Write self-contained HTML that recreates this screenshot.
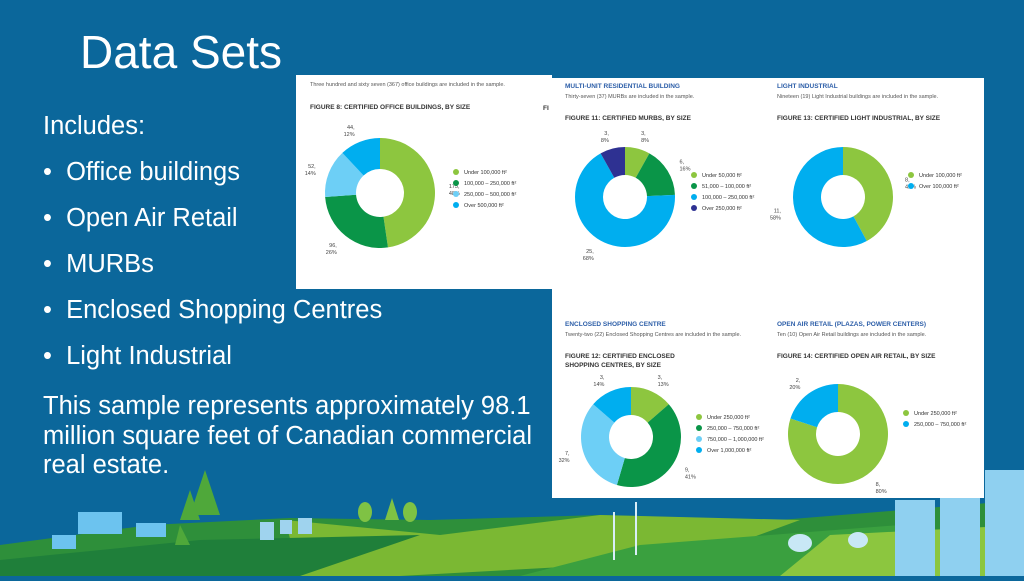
<!DOCTYPE html>
<html><head><meta charset="utf-8">
<style>
body{margin:0;width:1024px;height:576px;overflow:hidden;background:#0b679b;font-family:"Liberation Sans",sans-serif;}
#stage{position:relative;width:1024px;height:576px;}
svg text{font-family:"Liberation Sans",sans-serif;}
</style></head>
<body>
<div id="stage">
<svg id="svg" width="1024" height="576" viewBox="0 0 1024 576">
  <rect x="0" y="0" width="1024" height="576" fill="#0b679b"/>
  <g>
    <polygon points="0,576 0,545 150,525 290,518 430,520 600,515 780,520 1024,500 1024,576" fill="#2e8f3a"/>
    <polygon points="285,520 440,535 600,515 800,520 690,560 400,576 300,576" fill="#7bb833"/>
    <polygon points="0,560 200,540 420,535 300,576 0,576" fill="#1f7f3a"/>
    <polygon points="640,545 900,525 1024,540 1024,576 520,576" fill="#3aa03f"/>
    <polygon points="830,535 1024,525 1024,576 780,576" fill="#8cc63f"/>
    <g fill="#4fa83a"><polygon points="205,470 190,515 220,515"/><polygon points="190,490 180,520 200,520"/><polygon points="180,525 175,545 190,545"/></g>
    <g fill="#7fc244"><ellipse cx="365" cy="512" rx="7" ry="10"/><ellipse cx="410" cy="512" rx="7" ry="10"/><polygon points="392,498 385,520 399,520"/></g>
    <g fill="#9fd3ee"><rect x="260" y="522" width="14" height="18"/><rect x="280" y="520" width="12" height="14"/><rect x="298" y="518" width="14" height="16"/></g>
    <g fill="#6cc3ef"><rect x="78" y="512" width="44" height="22"/><rect x="52" y="535" width="24" height="14"/><rect x="136" y="523" width="30" height="14"/></g>
    <g stroke="#d9eef8" stroke-width="2"><line x1="614" y1="512" x2="614" y2="560"/><line x1="636" y1="502" x2="636" y2="555"/></g>
    <g fill="#8fd0f0"><rect x="895" y="500" width="40" height="76"/><rect x="940" y="480" width="40" height="96"/><rect x="985" y="470" width="39" height="106"/></g>
    <g fill="#c8e8f6"><ellipse cx="800" cy="543" rx="12" ry="9"/><ellipse cx="858" cy="540" rx="10" ry="8"/></g>
  </g>
</svg>
<div style="position:absolute;left:80px;top:26px;font-size:46px;color:#fff;line-height:52px;">Data Sets</div>
<div style="position:absolute;left:43px;top:0;color:#fff;font-size:25.5px;">
  <div style="position:absolute;top:112px;white-space:nowrap;">Includes:</div>
  <div style="position:absolute;top:158px;white-space:nowrap;">•&nbsp;&nbsp;Office buildings</div>
  <div style="position:absolute;top:204px;white-space:nowrap;">•&nbsp;&nbsp;Open Air Retail</div>
  <div style="position:absolute;top:250px;white-space:nowrap;">•&nbsp;&nbsp;MURBs</div>
  <div style="position:absolute;top:296px;white-space:nowrap;">•&nbsp;&nbsp;Enclosed Shopping Centres</div>
  <div style="position:absolute;top:342px;white-space:nowrap;">•&nbsp;&nbsp;Light Industrial</div>
  <div style="position:absolute;top:392px;line-height:29.5px;white-space:nowrap;">This sample represents approximately 98.1<br>million square feet of Canadian commercial<br>real estate.</div>
</div>
<script>
const officeValues=[175,96,52,44];
const officeLabels=["175,\n48%","96,\n26%","52,\n14%","44,\n12%"];
const officeLegend=["Under 100,000 ft²","100,000 – 250,000 ft²","250,000 – 500,000 ft²","Over 500,000 ft²"];
const murbValues=[3,6,25,3];
const murbLabels=["3,\n8%","6,\n16%","25,\n68%","3,\n8%"];
const murbLegend=["Under 50,000 ft²","51,000 – 100,000 ft²","100,000 – 250,000 ft²","Over 250,000 ft²"];
const lightValues=[8,11];
const lightLabels=["8,\n42%","11,\n58%"];
const lightLegend=["Under 100,000 ft²","Over 100,000 ft²"];
const enclosedValues=[3,9,7,3];
const enclosedLabels=["3,\n13%","9,\n41%","7,\n32%","3,\n14%"];
const enclosedLegend=["Under 250,000 ft²","250,000 – 750,000 ft²","750,000 – 1,000,000 ft²","Over 1,000,000 ft²"];
const openValues=[8,2];
const openLabels=["8,\n80%","2,\n20%"];
const openLegend=["Under 250,000 ft²","250,000 – 750,000 ft²"];

const NS="http://www.w3.org/2000/svg";
const svg=document.getElementById('svg');
function mk(tag,attrs,parent){const e=document.createElementNS(NS,tag);for(const k in attrs)e.setAttribute(k,attrs[k]);(parent||svg).appendChild(e);return e;}
function txt(parent,x,y,s,size,fill,weight,anchor){const t=mk('text',{x:x,y:y,'font-size':size,fill:fill,'font-weight':weight||'normal','text-anchor':anchor||'start'},parent);t.textContent=s;return t;}

mk('rect',{x:296,y:75,width:256,height:214,fill:'#fff'});

mk('rect',{x:552,y:78,width:432,height:420,fill:'#fff'});


function donut(name,cx,cy,R,r,values,labels,colors,legend,lx,ly,title,sub,head,tx,ty){
  const g=mk('g',{});
  
  
  if(head){const h=txt(g,tx,ty,head,6.5,'#2c5ea8','bold');}
  if(sub){const s=txt(g,tx,ty+(head?10:0),sub,5.5,'#555');}
  title.forEach((line,i)=>{const t=txt(g,tx,ty+(head?32:28)+i*9,line,6.5,'#333','bold');});
  const total=values.reduce((a,b)=>a+b,0);
  let a0=-Math.PI/2;
  values.forEach((v,i)=>{
    const a1=a0+v/total*2*Math.PI;
    const large=(a1-a0)>Math.PI?1:0;
    const p=[cx+R*Math.cos(a0),cy+R*Math.sin(a0),cx+R*Math.cos(a1),cy+R*Math.sin(a1),cx+r*Math.cos(a1),cy+r*Math.sin(a1),cx+r*Math.cos(a0),cy+r*Math.sin(a0)];
    const d=`M${p[0]},${p[1]}A${R},${R} 0 ${large} 1 ${p[2]},${p[3]}L${p[4]},${p[5]}A${r},${r} 0 ${large} 0 ${p[6]},${p[7]}Z`;
    const path=mk('path',{d:d,fill:colors[i]},g);
    
    
    const am=(a0+a1)/2, lr=R+14;
    const x=cx+lr*Math.cos(am), y=cy+lr*Math.sin(am);
    const anc=Math.cos(am)>0.2?'start':(Math.cos(am)<-0.2?'end':'middle');
    labels[i].split('\n').forEach((s,j)=>{const t=txt(g,x,y+j*7,s,5.5,'#444','normal',anc);});
    a0=a1;
  });
  legend.forEach((s,i)=>{
    const c=mk('circle',{cx:lx,cy:ly+i*11,r:3,fill:colors[i]},g);
    
    
    const t=txt(g,lx+8,ly+i*11+2,s,5.5,'#333');
    
    
  });
}
const G='#8dc63f',DG='#0a9548',LB='#6dcff6',B='#00aeef',NV='#2e3192';
txt(svg,310,86,'Three hundred and sixty seven (367) office buildings are included in the sample.',5.5,'#555');


donut('office-donut',380,193,55,24,officeValues,officeLabels,[G,DG,LB,B],officeLegend,456,172,['FIGURE 8: CERTIFIED OFFICE BUILDINGS, BY SIZE'],null,null,310,81);
txt(svg,543,110,'FI',6.5,'#333','bold');


donut('murb-donut',625,197,50,22,murbValues,murbLabels,[G,DG,B,NV],murbLegend,694,175,['FIGURE 11: CERTIFIED MURBS, BY SIZE'],'Thirty-seven (37) MURBs are included in the sample.','MULTI-UNIT RESIDENTIAL BUILDING',565,88);
donut('light-industrial-donut',843,197,50,22,lightValues,lightLabels,[G,B],lightLegend,911,175,['FIGURE 13: CERTIFIED LIGHT INDUSTRIAL, BY SIZE'],'Nineteen (19) Light Industrial buildings are included in the sample.','LIGHT INDUSTRIAL',777,88);
donut('enclosed-donut',631,437,50,22,enclosedValues,enclosedLabels,[G,DG,LB,B],enclosedLegend,699,417,['FIGURE 12: CERTIFIED ENCLOSED','SHOPPING CENTRES, BY SIZE'],'Twenty-two (22) Enclosed Shopping Centres are included in the sample.','ENCLOSED SHOPPING CENTRE',565,326);
donut('open-air-donut',838,434,50,22,openValues,openLabels,[G,B],openLegend,906,413,['FIGURE 14: CERTIFIED OPEN AIR RETAIL, BY SIZE'],'Ten (10) Open Air Retail buildings are included in the sample.','OPEN AIR RETAIL (PLAZAS, POWER CENTERS)',777,326);
</script>
</div>
</body></html>
